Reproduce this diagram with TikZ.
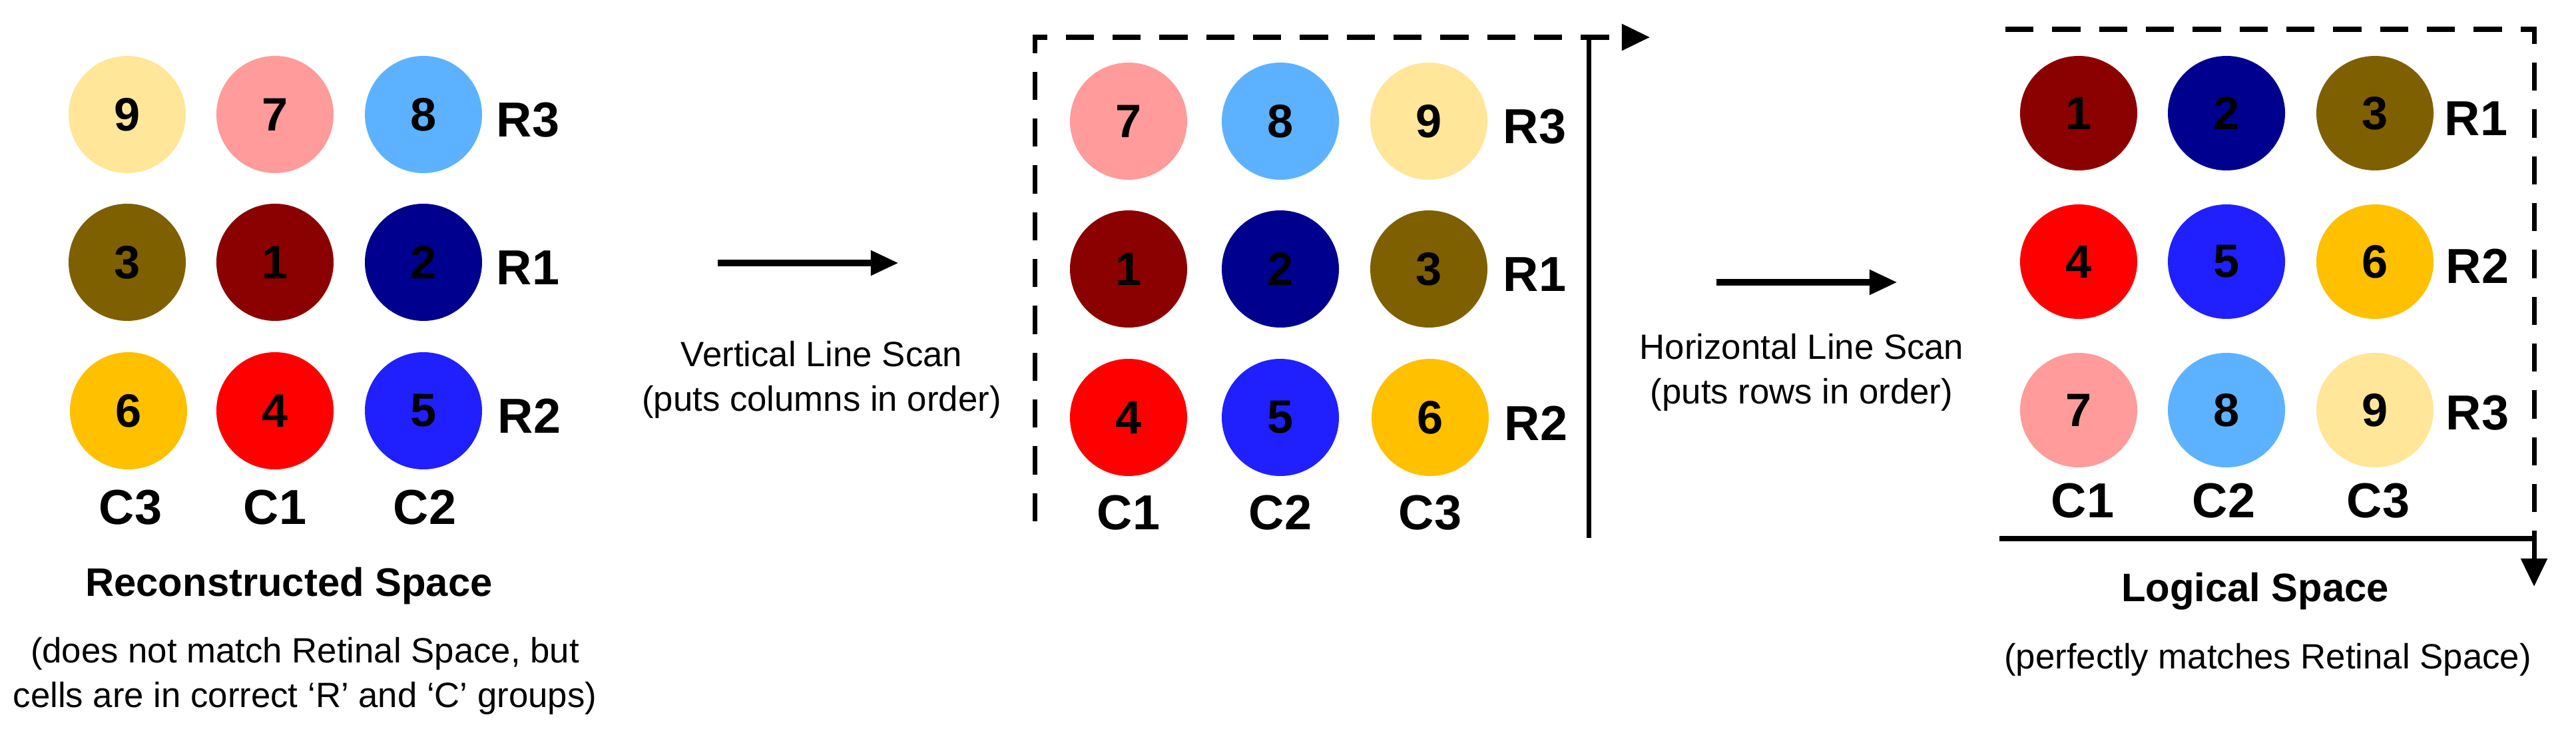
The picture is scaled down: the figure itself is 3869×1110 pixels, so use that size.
\documentclass[tikz,border=0pt]{standalone}
\usepackage{fontspec}
\setmainfont{Liberation Sans}
\usetikzlibrary{arrows.meta}
\definecolor{cA}{HTML}{8B0000}\definecolor{cB}{HTML}{00008F}\definecolor{cC}{HTML}{7F6000}
\definecolor{cD}{HTML}{FF0000}\definecolor{cE}{HTML}{2020FF}\definecolor{cF}{HTML}{FFC000}
\definecolor{cG}{HTML}{FF9B9B}\definecolor{cH}{HTML}{5CB2FF}\definecolor{cI}{HTML}{FFE699}
\begin{document}
\begin{tikzpicture}[x=0.01cm,y=-0.01cm,
  lab/.style={font=\fontsize{21}{24}\selectfont\bfseries},
  num/.style={font=\fontsize{20}{24}\selectfont\bfseries},
  ttl/.style={font=\fontsize{17}{20}\selectfont\bfseries},
  sub/.style={font=\fontsize{15}{19}\selectfont, align=center},
  big/.style={-{Triangle[length=12pt,width=10pt]}, line width=3pt},
  frame/.style={line width=2pt, dash pattern=on 12pt off 8pt, -{Triangle[length=12pt,width=11pt]}}]
\useasboundingbox (0,0) rectangle (3869,1110);
% left panel
\foreach \n/\x/\y/\c in {9/191/172/cI,7/413/172/cG,8/636/172/cH,3/191/394/cC,1/413/394/cA,2/636/394/cB,6/193/617/cF,4/413/617/cD,5/636/617/cE}{
  \fill[\c] (\x,\y) ellipse [x radius=88, y radius=88];
  \node[num] (L\n) at (\x,\y) {\n};}
\node[lab] (LR3) at (793,180) {R3};
\node[lab] (LR1) at (793,402) {R1};
\node[lab] (LR2) at (795,625) {R2};
\node[lab] (LC3) at (196,762) {C3};
\node[lab] (LC1) at (413,762) {C1};
\node[lab] (LC2) at (638,762) {C2};
\node[ttl] (LT) at (434,880) {Reconstructed Space};
\node[sub] (LS) at (458,1015) {(does not match Retinal Space, but\\cells are in correct ‘R’ and ‘C’ groups)};
% arrow 1
\coordinate (a1s) at (1078,395); \coordinate (a1e) at (1350,395);
\draw[big] (a1s) -- (a1e);
\node[sub] (T1) at (1234,570) {Vertical Line Scan\\(puts columns in order)};
% middle panel
\foreach \n/\x/\y/\c in {7/1695/182/cG,8/1923/182/cH,9/2146/182/cI,1/1695/404/cA,2/1923/404/cB,3/2146/404/cC,4/1695/627/cD,5/1923/627/cE,6/2148/627/cF}{
  \fill[\c] (\x,\y) ellipse [x radius=88, y radius=88];
  \node[num] (M\n) at (\x,\y) {\n};}
\node[lab] (MR3) at (2305,190) {R3};
\node[lab] (MR1) at (2305,412) {R1};
\node[lab] (MR2) at (2307,636) {R2};
\node[lab] (MC1) at (1695,770) {C1};
\node[lab] (MC2) at (1923,770) {C2};
\node[lab] (MC3) at (2148,770) {C3};
\coordinate (m1) at (1554,783); \coordinate (m2) at (1554,56); \coordinate (m3) at (2478,56);
\draw[frame] (m1) -- (m2) -- (m3);
\coordinate (v1) at (2386,54); \coordinate (v2) at (2386,808);
\draw[line width=2pt] (v1) -- (v2);
% arrow 2
\coordinate (a2s) at (2578,424); \coordinate (a2e) at (2850,424);
\draw[big] (a2s) -- (a2e);
\node[sub] (T2) at (2706,559) {Horizontal Line Scan\\(puts rows in order)};
% right panel
\foreach \n/\x/\y/\c in {1/3122/170/cA,2/3344/170/cB,3/3567/170/cC,4/3122/393/cD,5/3344/393/cE,6/3567/393/cF,7/3122/616/cG,8/3344/616/cH,9/3567/616/cI}{
  \fill[\c] (\x,\y) ellipse [x radius=88, y radius=86];
  \node[num] (N\n) at (\x,\y) {\n};}
\node[lab] (NR1) at (3719,178) {R1};
\node[lab] (NR2) at (3721,400) {R2};
\node[lab] (NR3) at (3721,620) {R3};
\node[lab] (NC1) at (3128,752) {C1};
\node[lab] (NC2) at (3340,752) {C2};
\node[lab] (NC3) at (3572,752) {C3};
\coordinate (r1) at (3012,44); \coordinate (r2) at (3806,44); \coordinate (r3) at (3806,881);
\draw[frame] (r1) -- (r2) -- (r3);
\coordinate (h1) at (3003,809); \coordinate (h2) at (3808,809);
\draw[line width=2pt] (h1) -- (h2);
\node[ttl] (RT) at (3387,888) {Logical Space};
\node[sub] (RS) at (3406,991) {(perfectly matches Retinal Space)};
\end{tikzpicture}
\end{document}
